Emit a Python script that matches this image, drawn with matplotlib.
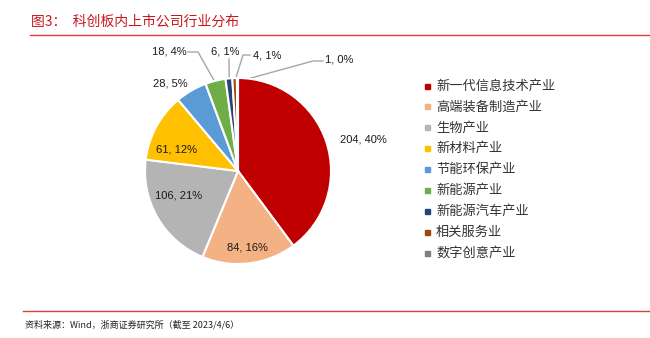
import numpy as np
import matplotlib
matplotlib.use('Agg')
import matplotlib.pyplot as plt
from matplotlib.patches import Rectangle

plt.rcParams['font.family'] = ['Noto Sans CJK SC', 'DejaVu Sans']

# data
industries = ['新一代信息技术产业', '高端装备制造产业', '生物产业', '新材料产业', '节能环保产业',
              '新能源产业', '新能源汽车产业', '相关服务业', '数字创意产业']
counts = [204, 84, 106, 61, 28, 18, 6, 4, 1]
pct_labels = ['40%', '16%', '21%', '12%', '5%', '4%', '1%', '1%', '0%']
colors = ['#C00000', '#F4B183', '#B4B4B4', '#FFC000', '#5B9BD5',
          '#70AD47', '#264478', '#9E480E', '#7F7F7F']

W, H = 650, 338
fig = plt.figure(figsize=(W / 100, H / 100), dpi=100)
ax = fig.add_axes([0, 0, 1, 1])

# pie in pixel coords (y up)
cx, cy, r = 238, H - 171, 93
wedges, _ = ax.pie(counts, colors=colors, startangle=90, counterclock=False,
                   center=(cx, cy), radius=r,
                   wedgeprops=dict(edgecolor='white', linewidth=1.5))
ax.set_xlim(0, W)
ax.set_ylim(0, H)
ax.set_aspect('auto')
ax.axis('off')

# label layout: (x, y from top, ha, elbow) -- elbow None means no leader
lab_pos = [
    (363, 140, 'center', None),
    (247, 248, 'center', None),
    (179, 196, 'center', None),
    (177, 149, 'center', None),
    (170, 83, 'center', None),
    (169, 52, 'center', [(188, 52), (198, 52)]),
    (225, 51, 'center', [(229, 59)]),
    (267, 55, 'center', [(250, 55), (243, 55)]),
    (339, 59, 'center', [(323, 61), (313, 61)]),
]

for w, n, p, (lx, ly, ha, elbow) in zip(wedges, counts, pct_labels, lab_pos):
    ax.text(lx, H - ly, f'{n}, {p}', ha=ha, va='center', fontsize=8,
            family=['Liberation Sans', 'DejaVu Sans'], color='#1a1a1a')
    if elbow:
        mid = np.deg2rad((w.theta1 + w.theta2) / 2)
        ex, ey = cx + 0.96 * r * np.cos(mid), cy + 0.96 * r * np.sin(mid)
        xs = [px for px, py in elbow] + [ex]
        ys = [H - py for px, py in elbow] + [ey]
        ax.plot(xs, ys, color='#A6A6A6', lw=1, zorder=0.5)

# legend drawn by hand
for i, (name, c) in enumerate(zip(industries, colors)):
    y = H - (86 + i * 20.9)
    ax.add_patch(Rectangle((424.5, y - 2.5), 5, 5, color=c))
    ax.text(436, y, name, ha='left', va='center', fontsize=9.5, color='#333333')

# title and frame lines
ax.text(31, H - 22, '图3：  科创板内上市公司行业分布', fontsize=10, color='#C8161D',
        ha='left', va='center')
ax.plot([30, W], [H - 35, H - 35], color='#E03C3C', lw=1)
ax.plot([23, W], [H - 311, H - 311], color='#E03C3C', lw=1)
ax.text(25, H - 325, '资料来源：Wind，浙商证券研究所（截至 2023/4/6）', fontsize=6.5,
        color='#222222', ha='left', va='center')

fig.savefig('out.png', dpi=100)
